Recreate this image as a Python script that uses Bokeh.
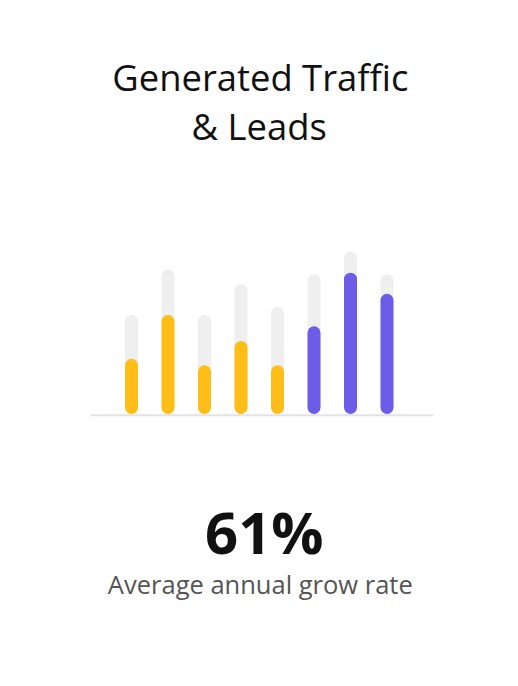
from bokeh.plotting import figure
from bokeh.models import Range1d, Label, ColumnDataSource
from bokeh.embed import file_html
from bokeh.resources import INLINE

# ---- data ----
months = [1, 2, 3, 4, 5, 6, 7, 8]
target = [61, 89, 61, 80, 66, 86, 100, 86]      # light grey background bars
actual = [34, 61, 30, 45, 30, 54, 87, 74]       # coloured bars
colors = ["#FFBE17", "#FFBE17", "#FFBE17", "#FFBE17", "#FFBE17",
          "#6C5CE7", "#6C5CE7", "#6C5CE7"]
title_lines = ["Generated Traffic", "& Leads"]
big_value = "61%"
subtitle = "Average annual grow rate"

W, H = 502, 670
BAR_PX = 13
PX_PER_X = 36.5
PX_PER_Y = 1.625
x0 = months[0] - 131 / PX_PER_X
y0 = -(H - 413.5) / PX_PER_Y

p = figure(width=W, height=H, output_backend="svg", toolbar_location=None,
           x_range=Range1d(x0, x0 + W / PX_PER_X),
           y_range=Range1d(y0, y0 + H / PX_PER_Y),
           min_border=0, outline_line_color=None,
           background_fill_color="white", border_fill_color="white")
p.axis.visible = False
p.grid.visible = False

cap = (BAR_PX / 2) / PX_PER_Y
src = ColumnDataSource(dict(
    x=months,
    b=[cap] * len(months),
    t=[v - cap for v in target],
    a=[v - cap for v in actual],
    c=colors,
))

# baseline
p.segment(x0=[months[0] - 1.12], x1=[months[-1] + 1.27], y0=[-0.7], y1=[-0.7],
          line_color="#E3E3E3", line_width=2)

p.segment(x0="x", x1="x", y0="b", y1="t", source=src,
          line_color="#EFEFEF", line_width=BAR_PX, line_cap="round")
p.segment(x0="x", x1="x", y0="b", y1="a", source=src,
          line_color="c", line_width=BAR_PX, line_cap="round")

FONT = "Open Sans"
p.add_layout(Label(x=259.8, y=594, x_units="screen", y_units="screen",
                   text=title_lines[0], text_align="center", text_baseline="alphabetic",
                   text_font=FONT, text_font_size="36.4px", text_color="#111111"))
p.add_layout(Label(x=258.7, y=544.3, x_units="screen", y_units="screen",
                   text=title_lines[1], text_align="center", text_baseline="alphabetic",
                   text_font=FONT, text_font_size="36.4px", text_color="#111111"))
p.add_layout(Label(x=263.8, y=138.8, x_units="screen", y_units="screen",
                   text=big_value, text_align="center", text_baseline="alphabetic",
                   text_font=FONT, text_font_size="58px", text_font_style="bold",
                   text_color="#111111"))
p.add_layout(Label(x=259.8, y=86.7, x_units="screen", y_units="screen",
                   text=subtitle, text_align="center", text_baseline="alphabetic",
                   text_font=FONT, text_font_size="25.5px", text_color="#555555"))

open("out.html", "w").write(file_html(p, INLINE))
